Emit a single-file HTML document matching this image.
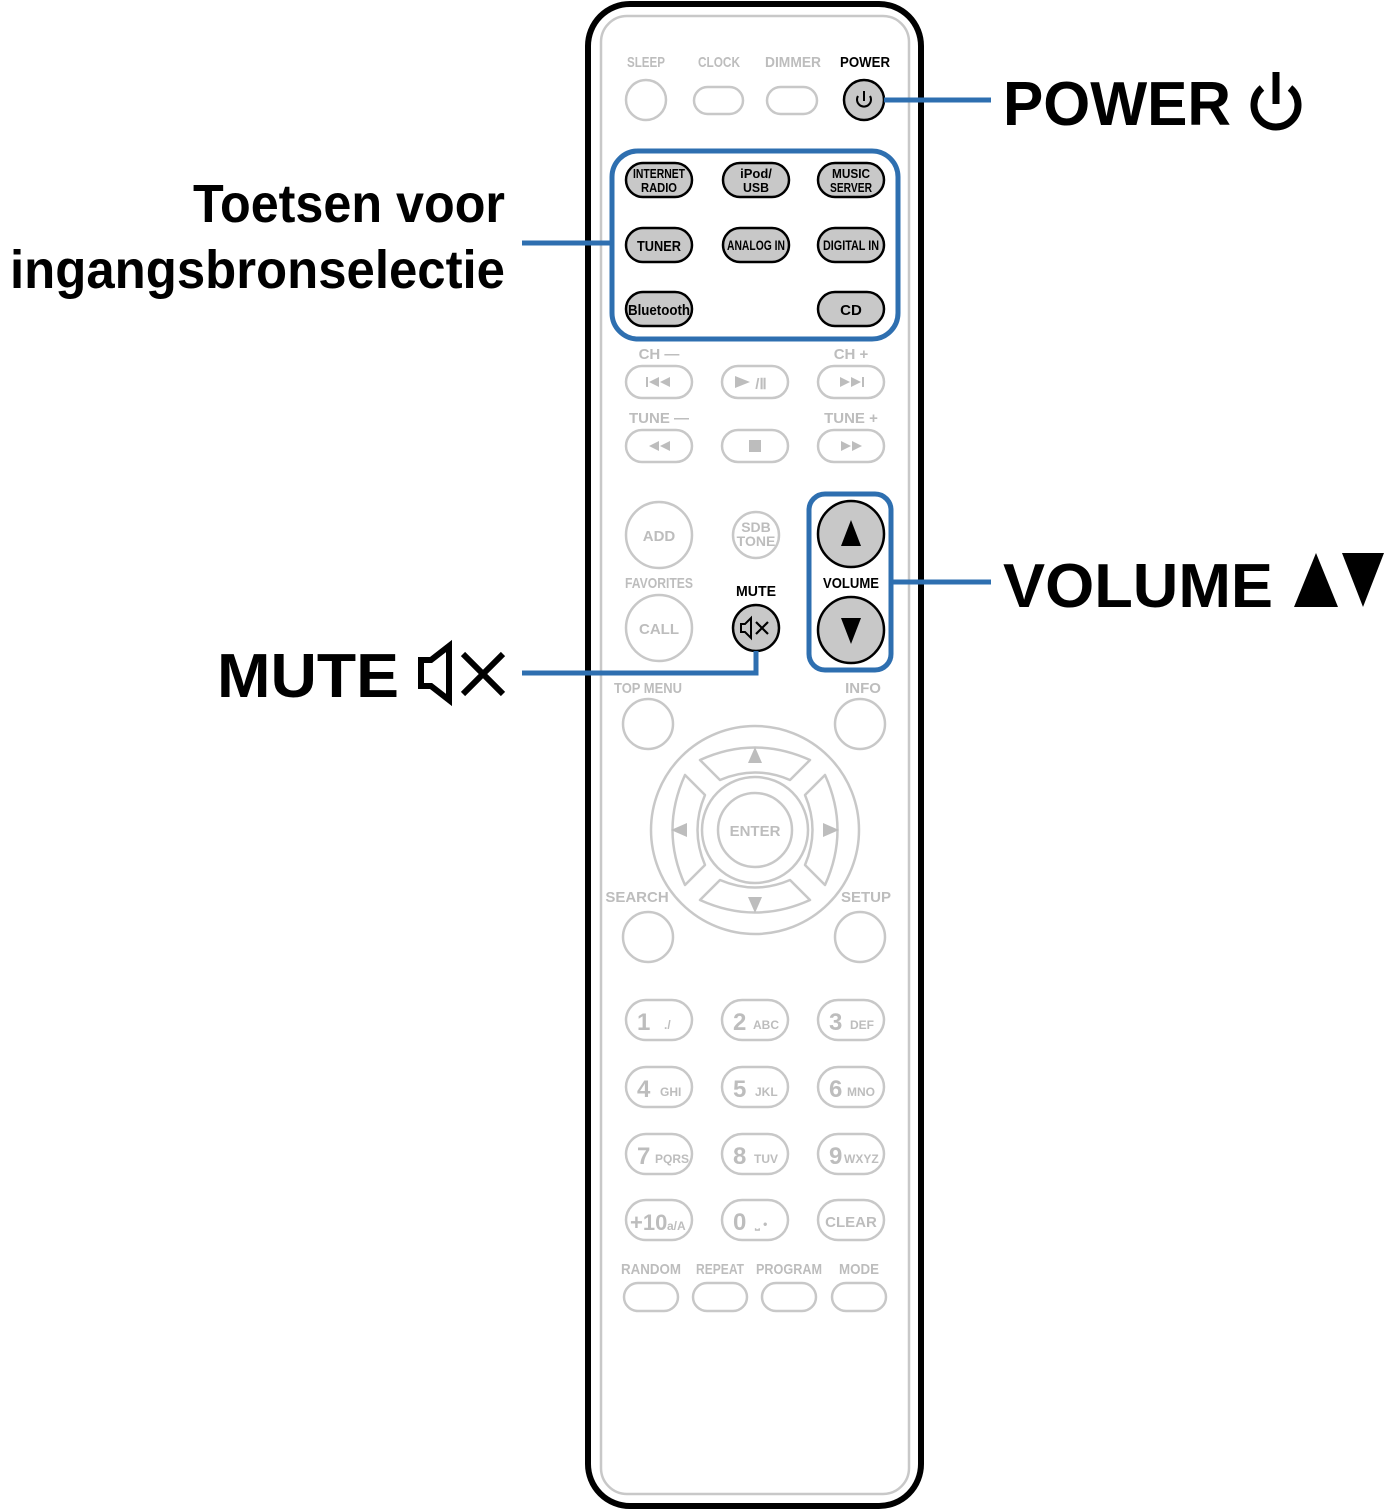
<!DOCTYPE html>
<html><head><meta charset="utf-8"><style>
html,body{margin:0;padding:0;background:#fff}
svg{display:block}
.g{fill:none;stroke:#c8c8c8;stroke-width:2.5}
.gt{fill:#bdbdbd;font-family:"Liberation Sans",sans-serif;font-weight:bold;text-anchor:middle}
.bt{fill:#000;font-family:"Liberation Sans",sans-serif;font-weight:bold;text-anchor:middle}
.k{fill:#c8c8c8;stroke:#000;stroke-width:2.5}
.bl{fill:none;stroke:#2e6fb0;stroke-width:5}
.big{fill:#000;font-family:"Liberation Sans",sans-serif;font-weight:bold}
</style></head><body>
<svg width="1385" height="1510" viewBox="0 0 1385 1510" xmlns="http://www.w3.org/2000/svg">
<!-- remote body -->
<rect x="588" y="4" width="333" height="1502" rx="42" fill="#fff" stroke="#000" stroke-width="6"/>
<rect x="601" y="16" width="308" height="1478" rx="26" class="g"/>

<!-- top row -->
<g font-size="15">
<text x="646" y="67" class="gt" textLength="38" lengthAdjust="spacingAndGlyphs">SLEEP</text>
<text x="719" y="67" class="gt" textLength="42" lengthAdjust="spacingAndGlyphs">CLOCK</text>
<text x="793" y="67" class="gt" textLength="56" lengthAdjust="spacingAndGlyphs">DIMMER</text>
<text x="865" y="67" class="bt" textLength="50" lengthAdjust="spacingAndGlyphs">POWER</text>
</g>
<circle cx="646" cy="100" r="20" class="g"/>
<rect x="694" y="87" width="49" height="27" rx="13.5" class="g"/>
<rect x="767" y="87" width="50" height="27" rx="13.5" class="g"/>
<circle cx="864" cy="100" r="20" class="k"/>
<path d="M858 96 A7 7 0 1 0 870 96" fill="none" stroke="#000" stroke-width="2"/>
<line x1="864" y1="91" x2="864" y2="101" stroke="#000" stroke-width="2"/>

<!-- source box -->
<rect x="612" y="151" width="286" height="188" rx="26" class="bl"/>
<g font-size="13">
<rect x="626" y="163" width="66" height="34" rx="17" class="k"/>
<text x="659" y="178" class="bt" textLength="52" lengthAdjust="spacingAndGlyphs">INTERNET</text>
<text x="659" y="192" class="bt" textLength="36" lengthAdjust="spacingAndGlyphs">RADIO</text>
<rect x="723" y="163" width="66" height="34" rx="17" class="k"/>
<text x="756" y="178" class="bt">iPod/</text>
<text x="756" y="192" class="bt" textLength="26" lengthAdjust="spacingAndGlyphs">USB</text>
<rect x="818" y="163" width="66" height="34" rx="17" class="k"/>
<text x="851" y="178" class="bt" textLength="38" lengthAdjust="spacingAndGlyphs">MUSIC</text>
<text x="851" y="192" class="bt" textLength="42" lengthAdjust="spacingAndGlyphs">SERVER</text>
<rect x="626" y="228" width="66" height="34" rx="17" class="k"/>
<text x="659" y="251" class="bt" font-size="15" textLength="44" lengthAdjust="spacingAndGlyphs">TUNER</text>
<rect x="723" y="228" width="66" height="34" rx="17" class="k"/>
<text x="756" y="250" class="bt" font-size="14" textLength="58" lengthAdjust="spacingAndGlyphs">ANALOG IN</text>
<rect x="818" y="228" width="66" height="34" rx="17" class="k"/>
<text x="851" y="250" class="bt" font-size="14" textLength="56" lengthAdjust="spacingAndGlyphs">DIGITAL IN</text>
<rect x="626" y="292" width="66" height="34" rx="17" class="k"/>
<text x="659" y="315" class="bt" font-size="15" textLength="62" lengthAdjust="spacingAndGlyphs">Bluetooth</text>
<rect x="818" y="292" width="66" height="34" rx="17" class="k"/>
<text x="851" y="315" class="bt" font-size="15">CD</text>
</g>
<line x1="522" y1="243" x2="612" y2="243" stroke="#2e6fb0" stroke-width="5"/>
<line x1="884" y1="100" x2="991" y2="100" stroke="#2e6fb0" stroke-width="5"/>

<!-- transport -->
<g font-size="15">
<text x="659" y="359" class="gt">CH —</text>
<text x="851" y="359" class="gt">CH +</text>
<text x="659" y="423" class="gt">TUNE —</text>
<text x="851" y="423" class="gt">TUNE +</text>
</g>
<rect x="626" y="366" width="66" height="32" rx="16" class="g"/>
<rect x="722" y="366" width="66" height="32" rx="16" class="g"/>
<rect x="818" y="366" width="66" height="32" rx="16" class="g"/>
<rect x="626" y="430" width="66" height="32" rx="16" class="g"/>
<rect x="722" y="430" width="66" height="32" rx="16" class="g"/>
<rect x="818" y="430" width="66" height="32" rx="16" class="g"/>
<g fill="#bdbdbd">
<rect x="646" y="377" width="2" height="10"/><polygon points="659,377 659,387 649,382"/><polygon points="670,377 670,387 660,382"/>
<polygon points="735,376 735,388 750,382"/><text x="761" y="389" class="gt" font-size="15">/Ⅱ</text>
<polygon points="840,377 840,387 850,382"/><polygon points="851,377 851,387 861,382"/><rect x="862" y="377" width="2" height="10"/>
<polygon points="659,441 659,451 649,446"/><polygon points="670,441 670,451 660,446"/>
<rect x="749" y="440" width="12" height="12"/>
<polygon points="841,441 841,451 851,446"/><polygon points="852,441 852,451 862,446"/>
</g>

<!-- add / favorites -->
<circle cx="659" cy="535" r="33" class="g"/>
<text x="659" y="541" class="gt" font-size="15">ADD</text>
<circle cx="756" cy="535" r="23" class="g"/>
<text x="756" y="532" class="gt" font-size="14">SDB</text>
<text x="756" y="546" class="gt" font-size="14">TONE</text>
<text x="659" y="588" class="gt" font-size="15" textLength="68" lengthAdjust="spacingAndGlyphs">FAVORITES</text>
<circle cx="659" cy="628" r="33" class="g"/>
<text x="659" y="634" class="gt" font-size="15">CALL</text>
<text x="756" y="596" class="bt" font-size="15" textLength="40" lengthAdjust="spacingAndGlyphs">MUTE</text>
<circle cx="756" cy="628" r="23" class="k"/>
<path d="M741 624 h4 l6 -6 v20 l-6 -6 h-4 z" fill="none" stroke="#000" stroke-width="2"/>
<path d="M756 622 l12 12 M768 622 l-12 12" stroke="#000" stroke-width="2.2"/>
<path d="M756 651 V673 H522" fill="none" stroke="#2e6fb0" stroke-width="5"/>

<!-- volume -->
<rect x="809" y="494" width="82" height="176" rx="16" class="bl"/>
<circle cx="851" cy="534" r="33" class="k"/>
<polygon points="851,520 841,546 861,546" fill="#000"/>
<text x="851" y="588" class="bt" font-size="15" textLength="56" lengthAdjust="spacingAndGlyphs">VOLUME</text>
<circle cx="851" cy="630" r="33" class="k"/>
<polygon points="841,618 861,618 851,644" fill="#000"/>
<line x1="891" y1="582" x2="991" y2="582" stroke="#2e6fb0" stroke-width="5"/>

<!-- nav -->
<text x="648" y="693" class="gt" font-size="15" textLength="68" lengthAdjust="spacingAndGlyphs">TOP MENU</text>
<text x="863" y="693" class="gt" font-size="15">INFO</text>
<circle cx="648" cy="724" r="25" class="g"/>
<circle cx="860" cy="724" r="25" class="g"/>
<circle cx="755" cy="830" r="104" class="g"/>
<circle cx="755" cy="830" r="53" class="g"/>
<circle cx="755" cy="830" r="37" class="g"/>
<text x="755" y="836" class="gt" font-size="15">ENTER</text>
<g class="g" stroke-linejoin="round">
<path d="M700 760 Q755 735 810 760 L790 780 Q755 765 720 780 Z"/>
<path d="M700 900 Q755 925 810 900 L790 880 Q755 895 720 880 Z"/>
<path d="M685 775 Q660 830 685 885 L705 865 Q690 830 705 795 Z"/>
<path d="M825 775 Q850 830 825 885 L805 865 Q820 830 805 795 Z"/>
</g>
<g fill="#bdbdbd">
<polygon points="755,747 748,763 762,763"/>
<polygon points="755,913 748,897 762,897"/>
<polygon points="671,830 687,823 687,837"/>
<polygon points="839,830 823,823 823,837"/>
</g>
<text x="637" y="902" class="gt" font-size="15">SEARCH</text>
<text x="866" y="902" class="gt" font-size="15">SETUP</text>
<circle cx="648" cy="937" r="25" class="g"/>
<circle cx="860" cy="937" r="25" class="g"/>

<!-- numbers -->
<g>
<rect x="626" y="1000" width="66" height="40" rx="20" class="g"/>
<rect x="722" y="1000" width="66" height="40" rx="20" class="g"/>
<rect x="818" y="1000" width="66" height="40" rx="20" class="g"/>
<rect x="626" y="1067" width="66" height="40" rx="20" class="g"/>
<rect x="722" y="1067" width="66" height="40" rx="20" class="g"/>
<rect x="818" y="1067" width="66" height="40" rx="20" class="g"/>
<rect x="626" y="1134" width="66" height="40" rx="20" class="g"/>
<rect x="722" y="1134" width="66" height="40" rx="20" class="g"/>
<rect x="818" y="1134" width="66" height="40" rx="20" class="g"/>
<rect x="626" y="1200" width="66" height="40" rx="20" class="g"/>
<rect x="722" y="1200" width="66" height="40" rx="20" class="g"/>
<rect x="818" y="1200" width="66" height="40" rx="20" class="g"/>
</g>
<g class="gt" font-size="24" text-anchor="start" style="text-anchor:start">
<text x="637" y="1030">1</text><text x="733" y="1030">2</text><text x="829" y="1030">3</text>
<text x="637" y="1097">4</text><text x="733" y="1097">5</text><text x="829" y="1097">6</text>
<text x="637" y="1164">7</text><text x="733" y="1164">8</text><text x="829" y="1164">9</text>
<text x="630" y="1230" font-size="22">+10</text><text x="733" y="1230">0</text>
</g>
<g class="gt" font-size="12" style="text-anchor:start">
<text x="664" y="1029">./</text><text x="753" y="1029">ABC</text><text x="850" y="1029">DEF</text>
<text x="660" y="1096">GHI</text><text x="755" y="1096">JKL</text><text x="847" y="1096">MNO</text>
<text x="655" y="1163">PQRS</text><text x="754" y="1163">TUV</text><text x="844" y="1163">WXYZ</text>
<text x="667" y="1230">a/A</text><text x="755" y="1228">⎵ •</text>
</g>
<text x="851" y="1227" class="gt" font-size="15">CLEAR</text>

<!-- bottom -->
<g font-size="15">
<text x="651" y="1274" class="gt" textLength="60" lengthAdjust="spacingAndGlyphs">RANDOM</text>
<text x="720" y="1274" class="gt" textLength="48" lengthAdjust="spacingAndGlyphs">REPEAT</text>
<text x="789" y="1274" class="gt" textLength="66" lengthAdjust="spacingAndGlyphs">PROGRAM</text>
<text x="859" y="1274" class="gt" textLength="40" lengthAdjust="spacingAndGlyphs">MODE</text>
</g>
<rect x="624" y="1283" width="54" height="28" rx="14" class="g"/>
<rect x="693" y="1283" width="54" height="28" rx="14" class="g"/>
<rect x="762" y="1283" width="54" height="28" rx="14" class="g"/>
<rect x="832" y="1283" width="54" height="28" rx="14" class="g"/>

<!-- big labels -->
<text x="1003" y="125" class="big" font-size="62" textLength="228" lengthAdjust="spacingAndGlyphs">POWER</text>
<path d="M1262 88 A22 22 0 1 0 1290 88" fill="none" stroke="#000" stroke-width="7"/>
<line x1="1276" y1="72" x2="1276" y2="104" stroke="#000" stroke-width="7"/>
<text x="505" y="222" class="big" font-size="54" text-anchor="end" textLength="312" lengthAdjust="spacingAndGlyphs">Toetsen voor</text>
<text x="505" y="288" class="big" font-size="54" text-anchor="end" textLength="495" lengthAdjust="spacingAndGlyphs">ingangsbronselectie</text>
<text x="1003" y="607" class="big" font-size="62" textLength="270" lengthAdjust="spacingAndGlyphs">VOLUME</text>
<polygon points="1316,553 1294,607 1338,607" fill="#000"/>
<polygon points="1342,553 1384,553 1363,607" fill="#000"/>
<text x="217" y="697" class="big" font-size="62" textLength="182" lengthAdjust="spacingAndGlyphs">MUTE</text>
<path d="M421 660 h10 l18 -14 v54 l-18 -14 h-10 z" fill="none" stroke="#000" stroke-width="6"/>
<path d="M463 654 l40 40 M503 654 l-40 40" stroke="#000" stroke-width="6"/>
</svg>
</body></html>
